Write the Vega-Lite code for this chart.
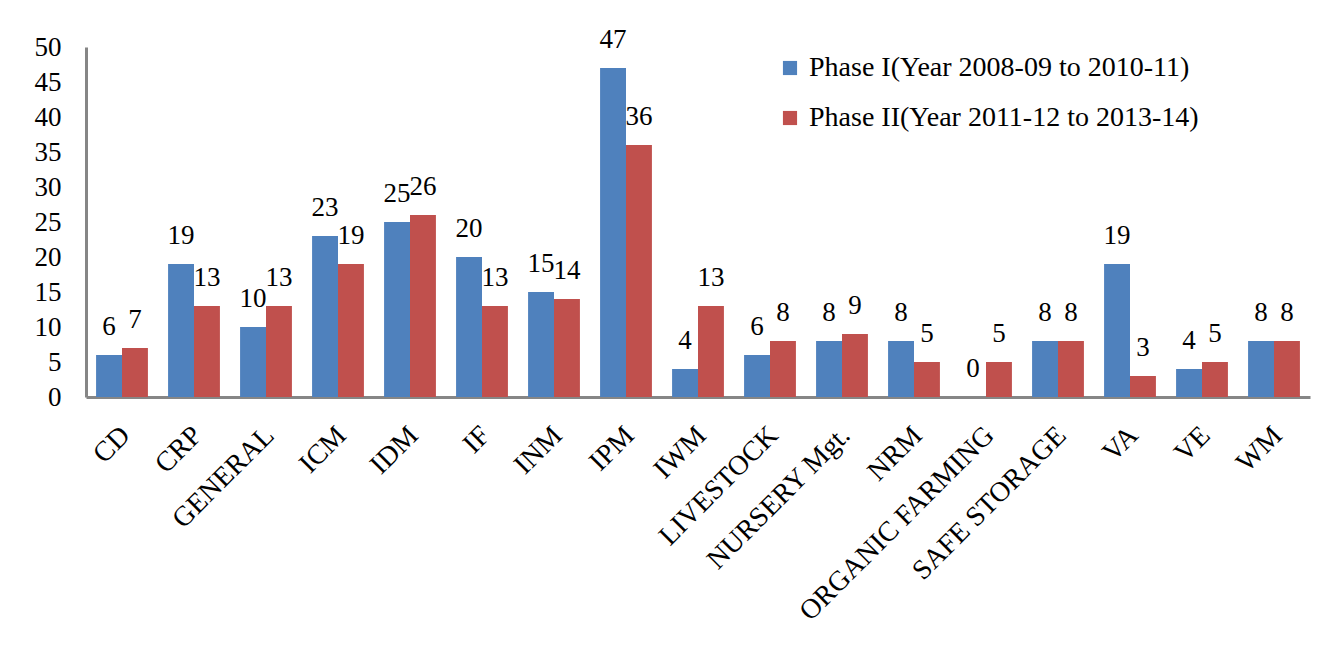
{
  "$schema": "https://vega.github.io/schema/vega-lite/v6.json",
  "width": 1224,
  "height": 350,
  "autosize": {"type": "none"},
  "padding": {"left": 86, "top": 47, "right": 15, "bottom": 253},
  "background": "white",
  "config": {
    "view": {"stroke": null},
    "font": "Times New Roman, Liberation Serif, serif",
    "text": {"font": "Times New Roman, Liberation Serif, serif"},
    "axis": {"labelFont": "Times New Roman, Liberation Serif, serif", "labelColor": "black"},
    "legend": {"labelFont": "Times New Roman, Liberation Serif, serif", "labelColor": "black"}
  },
  "data": {
    "values": [
      {"topic": "CD", "phase": "Phase I(Year 2008-09 to 2010-11)", "value": 6},
      {"topic": "CD", "phase": "Phase II(Year 2011-12 to 2013-14)", "value": 7},
      {"topic": "CRP", "phase": "Phase I(Year 2008-09 to 2010-11)", "value": 19},
      {"topic": "CRP", "phase": "Phase II(Year 2011-12 to 2013-14)", "value": 13},
      {"topic": "GENERAL", "phase": "Phase I(Year 2008-09 to 2010-11)", "value": 10},
      {"topic": "GENERAL", "phase": "Phase II(Year 2011-12 to 2013-14)", "value": 13},
      {"topic": "ICM", "phase": "Phase I(Year 2008-09 to 2010-11)", "value": 23},
      {"topic": "ICM", "phase": "Phase II(Year 2011-12 to 2013-14)", "value": 19},
      {"topic": "IDM", "phase": "Phase I(Year 2008-09 to 2010-11)", "value": 25},
      {"topic": "IDM", "phase": "Phase II(Year 2011-12 to 2013-14)", "value": 26},
      {"topic": "IF", "phase": "Phase I(Year 2008-09 to 2010-11)", "value": 20},
      {"topic": "IF", "phase": "Phase II(Year 2011-12 to 2013-14)", "value": 13},
      {"topic": "INM", "phase": "Phase I(Year 2008-09 to 2010-11)", "value": 15},
      {"topic": "INM", "phase": "Phase II(Year 2011-12 to 2013-14)", "value": 14},
      {"topic": "IPM", "phase": "Phase I(Year 2008-09 to 2010-11)", "value": 47},
      {"topic": "IPM", "phase": "Phase II(Year 2011-12 to 2013-14)", "value": 36},
      {"topic": "IWM", "phase": "Phase I(Year 2008-09 to 2010-11)", "value": 4},
      {"topic": "IWM", "phase": "Phase II(Year 2011-12 to 2013-14)", "value": 13},
      {"topic": "LIVESTOCK", "phase": "Phase I(Year 2008-09 to 2010-11)", "value": 6},
      {"topic": "LIVESTOCK", "phase": "Phase II(Year 2011-12 to 2013-14)", "value": 8},
      {"topic": "NURSERY Mgt.", "phase": "Phase I(Year 2008-09 to 2010-11)", "value": 8},
      {"topic": "NURSERY Mgt.", "phase": "Phase II(Year 2011-12 to 2013-14)", "value": 9},
      {"topic": "NRM", "phase": "Phase I(Year 2008-09 to 2010-11)", "value": 8},
      {"topic": "NRM", "phase": "Phase II(Year 2011-12 to 2013-14)", "value": 5},
      {"topic": "ORGANIC FARMING", "phase": "Phase I(Year 2008-09 to 2010-11)", "value": 0},
      {"topic": "ORGANIC FARMING", "phase": "Phase II(Year 2011-12 to 2013-14)", "value": 5},
      {"topic": "SAFE STORAGE", "phase": "Phase I(Year 2008-09 to 2010-11)", "value": 8},
      {"topic": "SAFE STORAGE", "phase": "Phase II(Year 2011-12 to 2013-14)", "value": 8},
      {"topic": "VA", "phase": "Phase I(Year 2008-09 to 2010-11)", "value": 19},
      {"topic": "VA", "phase": "Phase II(Year 2011-12 to 2013-14)", "value": 3},
      {"topic": "VE", "phase": "Phase I(Year 2008-09 to 2010-11)", "value": 4},
      {"topic": "VE", "phase": "Phase II(Year 2011-12 to 2013-14)", "value": 5},
      {"topic": "WM", "phase": "Phase I(Year 2008-09 to 2010-11)", "value": 8},
      {"topic": "WM", "phase": "Phase II(Year 2011-12 to 2013-14)", "value": 8}
    ]
  },
  "encoding": {
    "x": {
      "field": "topic", "type": "nominal", "sort": null,
      "scale": {"paddingInner": 0.28, "paddingOuter": 0.14},
      "axis": {
        "title": null, "labelAngle": -45, "labelFontSize": 28, "labelPadding": 24, "labelOffset": -6,
        "ticks": false, "domainColor": "#868686", "domainWidth": 3, "labelLimit": 400
      }
    },
    "xOffset": {"field": "phase", "type": "nominal"},
    "y": {
      "field": "value", "type": "quantitative",
      "scale": {"domain": [0, 50]},
      "axis": {
        "title": null, "values": [0, 5, 10, 15, 20, 25, 30, 35, 40, 45, 50],
        "grid": false, "ticks": false, "labelFontSize": 27, "labelPadding": 25,
        "domainColor": "#868686", "domainWidth": 3
      }
    }
  },
  "layer": [
    {
      "mark": {"type": "bar"},
      "encoding": {
        "color": {
          "field": "phase", "type": "nominal",
          "scale": {"range": ["#4F81BD", "#C0504D"]},
          "legend": {
            "title": null, "orient": "none", "legendX": 690, "legendY": 7,
            "symbolType": "square", "symbolSize": 200, "symbolStrokeWidth": 0,
            "labelFontSize": 28, "rowPadding": 22, "labelOffset": 5, "labelLimit": 600
          }
        }
      }
    },
    {
      "mark": {"type": "text", "baseline": "alphabetic", "dy": -20, "fontSize": 27, "color": "black", "font": "Times New Roman, Liberation Serif, serif"},
      "encoding": {"text": {"field": "value", "type": "quantitative"}}
    }
  ]
}
